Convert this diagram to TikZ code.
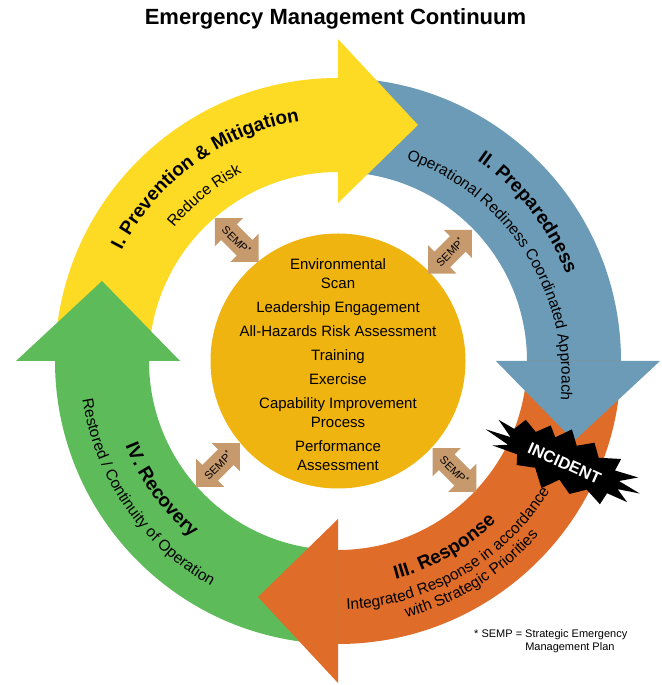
\documentclass[tikz,border=0pt]{standalone}
\usepackage{fontspec}
\setmainfont{Liberation Sans}
\usetikzlibrary{decorations.text}
\definecolor{cyel}{RGB}{253,218,36}
\definecolor{cblu}{RGB}{107,155,182}
\definecolor{corg}{RGB}{224,108,42}
\definecolor{cgrn}{RGB}{93,187,90}
\definecolor{cgold}{RGB}{240,180,16}
\definecolor{ctan}{RGB}{198,154,109}
\newcommand{\ringttl}{\fontsize{19}{19}\selectfont\bfseries}
\newcommand{\ringsub}{\fontsize{15.5}{15.5}\selectfont}
\tikzset{
  ringtext/.style={decorate, decoration={text along path, text align=center}},
  semptext/.style={font=\fontsize{11}{11}\selectfont, inner sep=0pt},
}
\begin{document}
\begin{tikzpicture}[x=1pt,y=1pt]
\useasboundingbox (0,0) rectangle (661,685);
\fill[white] (0,0) rectangle (661,685);
\node[font=\fontsize{22}{24}\selectfont\bfseries] (title) at (335.5,666) {Emergency Management Continuum};

\begin{scope}[shift={(338,324)}]
  % arrow bodies
  \foreach \col [count=\k from 0] in {cyel,cblu,corg,cgrn}{
    \fill[\col, rotate=-90*\k] (180:283) arc[start angle=180,end angle=90,radius=283]
      -- (90:189) arc[start angle=90,end angle=180,radius=189] -- cycle;
  }
  % arrow heads
  \foreach \col [count=\k from 0] in {cyel,cblu,corg,cgrn}{
    \fill[\col, rotate=-90*\k] (90:158) -- (90:322) -- (80,236) -- cycle;
  }
  \node[circle, fill=cgold, minimum size=255, inner sep=0pt] (core) at (0,0) {};
\end{scope}

% INCIDENT starburst
\begin{scope}[shift={(564,223)}, rotate=-24]
  \fill[black] (82,2) -- (58,5) -- (74,16) -- (50,13) -- (51,26) -- (30,18) -- (20,30)
    -- (5,20) -- (-6,33) -- (-18,19) -- (-27,28) -- (-38,16) -- (-52,23) -- (-59,10)
    -- (-77,12) -- (-59,1) -- (-85,-2) -- (-58,-7) -- (-72,-14) -- (-46,-12) -- (-42,-22)
    -- (-24,-17) -- (-10,-33) -- (3,-18) -- (18,-27) -- (32,-16) -- (50,-24) -- (52,-11)
    -- (74,-11) -- (60,-3) -- cycle;
  \node[white, font=\fontsize{16.5}{16.5}\selectfont\bfseries, rotate=-24, inner sep=0pt] (incident) at (1,-1) {INCIDENT};
\end{scope}

\begin{scope}[shift={(338,324)}]
  % curved labels
  \path[ringtext, decoration={text={|\ringttl|I. Prevention {\&} Mitigation}}]
    (166:243) arc[start angle=166,end angle=86,radius=243];
  \path[ringtext, decoration={text={|\ringsub|Reduce Risk}}]
    (169:211) arc[start angle=169,end angle=89,radius=211];
  \path[ringtext, decoration={text={|\ringttl|II. Preparedness}}]
    (78:244) arc[start angle=78,end angle=-2,radius=244];
  \path[ringtext, decoration={text={|\ringsub|Operational Rediness Coordinated Approach}}]
    ([shift={(-9.4,-17.8)}]82.6:233) arc[start angle=82.6,end angle=-17.4,radius=233];
  \path[ringtext, decoration={text={|\ringttl|IV. Recovery}}]
    (176:229) arc[start angle=176,end angle=256,radius=229];
  \path[ringtext, decoration={text={|\ringsub|Restored / Continuity of Operation}}]
    (164.6:258.5) arc[start angle=164.6,end angle=264.6,radius=258.5];
  \path[ringtext, decoration={text={|\ringttl|III. Response}}]
    (-100.3:225.5) arc[start angle=-100.3,end angle=-20.3,radius=225.5];
  \path[ringtext, decoration={text={|\ringsub|Integrated Response in accordance}}]
    (-109.8:248.5) arc[start angle=-109.8,end angle=-9.8,radius=248.5];
  \path[ringtext, decoration={text={|\ringsub|with Strategic Priorities}}]
    (-108:265.5) arc[start angle=-108,end angle=-8,radius=265.5];
\end{scope}

% SEMP double arrows
\foreach \px/\py/\ang/\nm in {236.7/445/-45/sempa, 450/433.3/45/sempb, 218/220/45/sempc, 454.5/215/-45/sempd}{
  \begin{scope}[shift={(\px,\py)}, rotate=\ang]
    \fill[ctan] (31,0) -- (11,20) -- (11,11) -- (-11,11) -- (-11,20) -- (-31,0)
      -- (-11,-20) -- (-11,-11) -- (11,-11) -- (11,-20) -- cycle;
    \node[semptext, rotate=\ang] (\nm) at (0,0) {SEMP\textsuperscript{*}};
  \end{scope}
}

% centre text
\node[align=center, font=\fontsize{15}{19}\selectfont, inner sep=0pt] (coretext) at (338,320.5)
  {Environmental\\Scan\\[5pt]Leadership Engagement\\[5pt]All-Hazards Risk Assessment\\[5pt]Training\\[5pt]Exercise\\[5pt]Capability Improvement\\Process\\[5pt]Performance\\Assessment};

% footnote
\node[anchor=base west, align=left, font=\fontsize{11}{13}\selectfont, inner sep=0pt] (note) at (474,34)
  {* SEMP = Strategic Emergency\\\phantom{* SEMP = }Management Plan};
\end{tikzpicture}
\end{document}
